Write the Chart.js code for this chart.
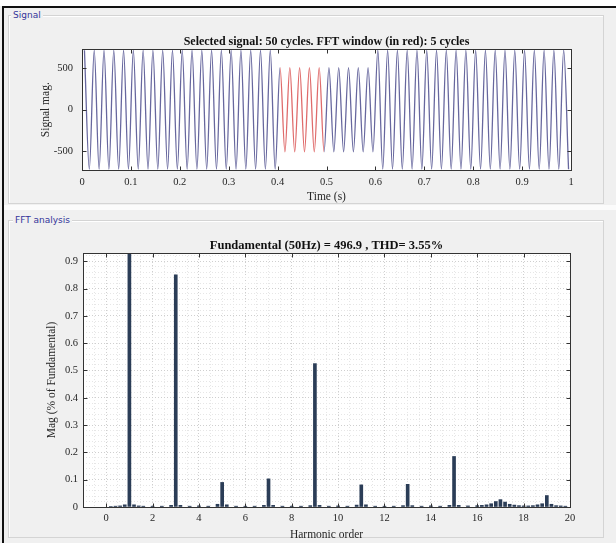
<!DOCTYPE html>
<html>
<head>
<meta charset="utf-8">
<script src="https://cdn.jsdelivr.net/npm/chart.js@4.4.0/dist/chart.umd.min.js"></script>
<style>
  html, body { margin: 0; padding: 0; }
  body { position: relative; width: 616px; height: 543px; background: #f0f0f0; overflow: hidden; }
  .edge { position: absolute; background: #111; }
  .panel { position: absolute; border: 1px solid #d4d4d4; box-shadow: inset 1px 1px 0 #fff; box-sizing: border-box; }
  .panel-label { position: absolute; font: 9px "DejaVu Sans", sans-serif; color: #34349a; background: #f0f0f0; padding: 0 2px; }
  #strip { position: absolute; left: 4px; top: 205px; width: 612px; height: 5px; background: #fbfbfb; }
  canvas { position: absolute; left: 0; }
</style>
</head>
<body>
<div class="edge" style="left:0;top:0;width:616px;height:6px;background:#fff"></div>
<div class="edge" style="left:2px;top:6px;width:614px;height:2px"></div>
<div class="edge" style="left:2px;top:6px;width:2px;height:537px"></div>
<div id="strip"></div>
<div class="panel" style="left:8px;top:15px;width:596px;height:189px"></div>
<div class="panel-label" style="left:11px;top:10px">Signal</div>
<div class="panel" style="left:8px;top:220px;width:596px;height:318px"></div>
<div class="panel-label" style="left:13px;top:215px">FFT analysis</div>

<canvas id="signal" width="653" height="205" style="top:0"></canvas>
<canvas id="fft" width="653" height="338" style="top:205px"></canvas>

<script>
// ---- top plot: selected signal ----
const signalTitle = "Selected signal: 50 cycles. FFT window (in red): 5 cycles";
const signalCycles = 50;          // cycles shown over 1 s
const windowStart = 0.4;          // FFT window (red)
const windowEnd = 0.5;
// peak amplitude of each cycle
const cycleAmp = [
  720, 720, 720, 720, 720, 720, 720, 720, 720, 720,
  720, 720, 720, 720, 720, 720, 720, 720, 720, 720,
  510, 510, 510, 510, 510, 510, 510, 510, 510, 510,
  720, 720, 720, 720, 720, 720, 720, 720, 720, 720,
  720, 720, 720, 720, 720, 720, 720, 720, 720, 720
];
const timeTicks = [0, 0.1, 0.2, 0.3, 0.4, 0.5, 0.6, 0.7, 0.8, 0.9, 1];
const signalTicks = [-500, 0, 500];

// ---- bottom plot: FFT ----
const fftTitle = "Fundamental (50Hz) = 496.9 , THD= 3.55%";
const fftOrder = [
  0.2, 0.4, 0.6, 0.8, 1, 1.2, 1.4, 1.6, 2, 2.4, 2.8, 3, 3.2, 3.6, 4, 4.4, 4.8, 5, 5.2, 5.6,
  6, 6.4, 6.8, 7, 7.2, 7.6, 8, 8.4, 8.8, 9, 9.2, 9.6, 10, 10.4, 10.8, 11, 11.2, 11.6,
  12, 12.4, 12.8, 13, 13.2, 13.6, 14, 14.4, 14.8, 15, 15.2, 15.6, 16, 16.2, 16.4, 16.6,
  16.8, 17, 17.2, 17.4, 17.6, 17.8, 18, 18.2, 18.4, 18.6, 18.8, 19, 19.2, 19.4, 19.6, 19.8
];
const fftMag = [
  0.002, 0.003, 0.004, 0.008, 100, 0.008, 0.004, 0.003, 0.003, 0.003, 0.006, 0.85, 0.006, 0.003, 0.004, 0.003, 0.010, 0.090, 0.008, 0.003,
  0.003, 0.003, 0.006, 0.103, 0.006, 0.003, 0.003, 0.003, 0.005, 0.525, 0.006, 0.003, 0.004, 0.003, 0.007, 0.081, 0.008, 0.003,
  0.003, 0.003, 0.005, 0.083, 0.005, 0.003, 0.004, 0.003, 0.006, 0.185, 0.006, 0.004, 0.005, 0.006, 0.008, 0.012,
  0.020, 0.027, 0.018, 0.010, 0.007, 0.005, 0.004, 0.004, 0.005, 0.008, 0.012, 0.042, 0.010, 0.005, 0.004, 0.003
];
const orderTicks = [0, 2, 4, 6, 8, 10, 12, 14, 16, 18, 20];
const magTicks = [0, 0.1, 0.2, 0.3, 0.4, 0.5, 0.6, 0.7, 0.8, 0.9];

const serif = '"Liberation Serif", "Times New Roman", serif';
const textColor = '#262626';
const tickFont = { family: serif, size: 10.5 };
const labelFont = { family: serif, size: 11.5 };

// white axes background, box and inward tick marks (MATLAB look)
const axesBox = {
  id: 'axesBox',
  beforeDraw(chart) {
    const a = chart.chartArea, ctx = chart.ctx;
    ctx.save();
    ctx.fillStyle = '#fff';
    ctx.fillRect(a.left, a.top, a.right - a.left, a.bottom - a.top);
    ctx.restore();
  },
  afterDraw(chart) {
    const a = chart.chartArea, ctx = chart.ctx;
    const L = Math.round(a.left) + 0.5, T = Math.round(a.top) + 0.5;
    const R = Math.round(a.right) + 0.5, B = Math.round(a.bottom) + 0.5;
    ctx.save();
    ctx.strokeStyle = '#333';
    ctx.lineWidth = 1;
    ctx.strokeRect(L, T, R - L, B - T);
    ctx.beginPath();
    const xs = chart.scales.x, ys = chart.scales.y;
    xs.ticks.forEach(t => {
      if (t.major === false) return;
      const px = Math.round(xs.getPixelForValue(t.value)) + 0.5;
      ctx.moveTo(px, B); ctx.lineTo(px, B - 4);
      ctx.moveTo(px, T); ctx.lineTo(px, T + 4);
    });
    ys.ticks.forEach(t => {
      if (t.major === false) return;
      const py = Math.round(ys.getPixelForValue(t.value)) + 0.5;
      ctx.moveTo(L, py); ctx.lineTo(L + 4, py);
      ctx.moveTo(R, py); ctx.lineTo(R - 4, py);
    });
    ctx.stroke();
    ctx.restore();
  }
};

function fixedTicks(list) {
  return scale => { scale.ticks = list.map(v => ({ value: v })); };
}

// ticks for a minor grid, majors get labels
function gridTicks(min, max, step, majors) {
  const out = [];
  for (let i = 0; ; i++) {
    const v = +(min + i * step).toFixed(4);
    if (v > max + 1e-9) break;
    out.push({ value: v, major: majors.some(m => Math.abs(m - v) < 1e-6) });
  }
  return out;
}

// blank right axis, same width as the left one, keeps the title centred over the axes
function mirrorAxis(width) {
  return {
    position: 'right', display: true,
    afterFit: s => { s.width = width; },
    grid: { display: false }, border: { display: false },
    ticks: { display: false }
  };
}

// build signal points: one crest and one trough per cycle
const signalPoints = [];
cycleAmp.forEach((amp, k) => {
  const t0 = k / signalCycles;
  signalPoints.push({ x: t0 + 0.25 / signalCycles, y: amp });
  signalPoints.push({ x: t0 + 0.75 / signalCycles, y: -amp });
});

new Chart(document.getElementById('signal'), {
  type: 'line',
  data: {
    datasets: [{
      data: signalPoints,
      borderColor: 'rgba(45,45,120,0.72)',
      borderWidth: 1.3,
      pointRadius: 0,
      cubicInterpolationMode: 'monotone',
      segment: {
        borderColor: ctx => (ctx.p0.parsed.x >= windowStart && ctx.p1.parsed.x <= windowEnd)
          ? 'rgba(215,70,70,0.8)' : undefined
      }
    }]
  },
  options: {
    responsive: false,
    animation: false,
    layout: { padding: { top: 35, right: 0, bottom: 0, left: 0 } },
    plugins: {
      legend: { display: false },
      tooltip: { enabled: false },
      title: {
        display: true, text: signalTitle, color: '#111',
        font: { family: serif, size: 12, weight: 'bold' },
        padding: { top: 0, bottom: 0 }
      }
    },
    scales: {
      x: {
        type: 'linear', min: 0, max: 1,
        afterBuildTicks: fixedTicks(timeTicks),
        afterFit: s => { s.height = 35; },
        grid: { display: false, drawTicks: false },
        border: { display: false },
        ticks: { color: textColor, font: tickFont, padding: 6, maxRotation: 0, callback: v => String(v) },
        title: { display: true, text: 'Time (s)', color: textColor, font: labelFont, padding: { top: 0, bottom: 1 } }
      },
      y: {
        min: -730, max: 730,
        afterBuildTicks: fixedTicks(signalTicks),
        afterFit: s => { s.width = 82; },
        grid: { display: false, drawTicks: false },
        border: { display: false },
        ticks: { color: textColor, font: tickFont, padding: 9, callback: v => String(v) },
        title: { display: true, text: 'Signal mag.', color: textColor, font: labelFont, padding: { top: 39, bottom: 0 } }
      },
      y2: mirrorAxis(82)
    }
  },
  plugins: [axesBox]
});

new Chart(document.getElementById('fft'), {
  type: 'bar',
  data: {
    datasets: [{
      data: fftOrder.map((o, i) => ({ x: o, y: fftMag[i] })),
      backgroundColor: '#2b3d57',
      barThickness: 3
    }]
  },
  options: {
    responsive: false,
    animation: false,
    layout: { padding: { top: 33, right: 0, bottom: 0, left: 0 } },
    plugins: {
      legend: { display: false },
      tooltip: { enabled: false },
      title: {
        display: true, text: fftTitle, color: '#111',
        font: { family: serif, size: 12.5, weight: 'bold' },
        padding: { top: 0, bottom: 0 }
      }
    },
    scales: {
      x: {
        type: 'linear', min: -1, max: 20, offset: false,
        afterBuildTicks: s => { s.ticks = gridTicks(-1, 20, 0.5, orderTicks); },
        afterFit: s => { s.height = 36; },
        grid: { color: c => (c.tick && c.tick.major) ? '#cfcfcf' : '#e6e6e6', drawTicks: false, offset: false },
        border: { display: false, dash: [1, 2] },
        ticks: { color: textColor, font: tickFont, padding: 5, maxRotation: 0, autoSkip: false,
          callback: (v, i, t) => t[i].major ? String(v) : '' },
        title: { display: true, text: 'Harmonic order', color: textColor, font: labelFont, padding: { top: 0, bottom: 1 } }
      },
      y: {
        min: 0, max: 0.93,
        afterBuildTicks: s => { s.ticks = gridTicks(0, 0.93, 0.02, magTicks); },
        afterFit: s => { s.width = 83; },
        grid: { color: c => (c.tick && c.tick.major) ? '#cfcfcf' : '#e6e6e6', drawTicks: false },
        border: { display: false, dash: [1, 2] },
        ticks: { color: textColor, font: tickFont, padding: 5, autoSkip: false,
          callback: (v, i, t) => t[i].major ? String(v) : '' },
        title: { display: true, text: 'Mag (% of Fundamental)', color: textColor, font: labelFont, padding: { top: 45, bottom: 0 } }
      },
      y2: mirrorAxis(83)
    }
  },
  plugins: [axesBox]
});
</script>
</body>
</html>
